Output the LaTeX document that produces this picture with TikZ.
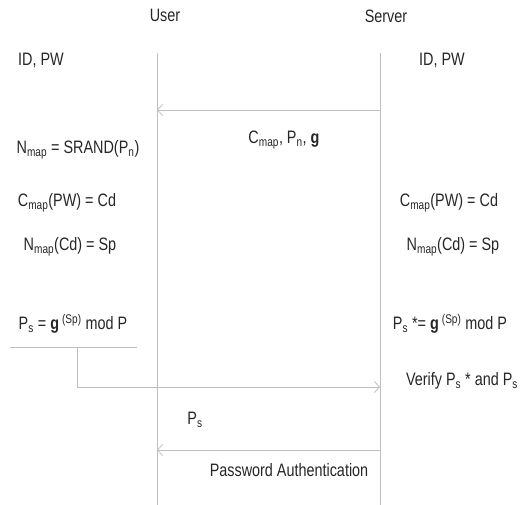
\documentclass[tikz,border=0pt]{standalone}
\usepackage{fontspec}
\setmainfont{Liberation Sans}[FakeStretch=0.8]
\usetikzlibrary{arrows.meta}
\newcommand{\mapsub}{\textsubscript{map}}
\newcommand{\ssub}{\textsubscript{s}}
\newcommand{\spexp}{\,\textsuperscript{(Sp)}}

\begin{document}
\begin{tikzpicture}[x=1pt, y=-1pt,
	lifeline/.style={draw=black!25, line width=0.8pt},
	msg/.style={lifeline, -{Straight Barb[length=5pt,width=11pt]}},
	txt/.style={font=\fontsize{18}{21}\selectfont, inner sep=0pt, text=black!85}]
	\useasboundingbox (0,0) rectangle (528,505);
	% headers
	\node[txt] (user) at (165,15) {User};
	\node[txt] (server) at (386,16) {Server};
	% lifelines
	\coordinate (userTop) at (157,53);
	\coordinate (userBot) at (157,505);
	\coordinate (serverTop) at (380,53);
	\coordinate (serverBot) at (380,505);
	\draw[lifeline] (userTop) -- (userBot);
	\draw[lifeline] (serverTop) -- (serverBot);
	% user side
	\node[txt] (userId) at (41,60) {ID, PW};
	\node[txt] (userN) at (78,150) {N\mapsub{} = SRAND(P\textsubscript{n})};
	\node[txt] (userC) at (67,203) {C\mapsub{}(PW) = Cd};
	\node[txt] (userSp) at (70,247) {N\mapsub{}(Cd) = Sp};
	\node[txt] (userPs) at (73,324) {P\ssub{} = \textbf{g}\spexp{} mod P};
	\coordinate (lineL) at (10,347);
	\coordinate (lineR) at (137,347);
	\draw[lifeline] (lineL) -- (lineR);
	% server side
	\node[txt] (serverId) at (442,60) {ID, PW};
	\node[txt] (serverC) at (449,203) {C\mapsub{}(PW) = Cd};
	\node[txt] (serverSp) at (453,247) {N\mapsub{}(Cd) = Sp};
	\node[txt] (serverPs) at (450,324) {P\ssub{} *= \textbf{g}\spexp{} mod P};
	\node[txt] (verify) at (462,381) {Verify P\ssub{} * and P\ssub};
	% messages
	\coordinate (s1) at (380,110);
	\coordinate (u1) at (157,110);
	\draw[msg] (s1) -- (u1);
	\node[txt] (msgOne) at (284,140) {C\mapsub, P\textsubscript{n}, \textbf{g}};
	\coordinate (ps) at (77,347);
	\coordinate (bend) at (77,387);
	\coordinate (s2) at (380,387);
	\draw[msg] (ps) -- (bend) -- (s2);
	\node[txt] (msgPs) at (195,420) {P\ssub};
	\coordinate (s3) at (380,450);
	\coordinate (u3) at (157,450);
	\draw[msg] (s3) -- (u3);
	\node[txt] (auth) at (289,470) {Password Authentication};
\end{tikzpicture}
\end{document}
